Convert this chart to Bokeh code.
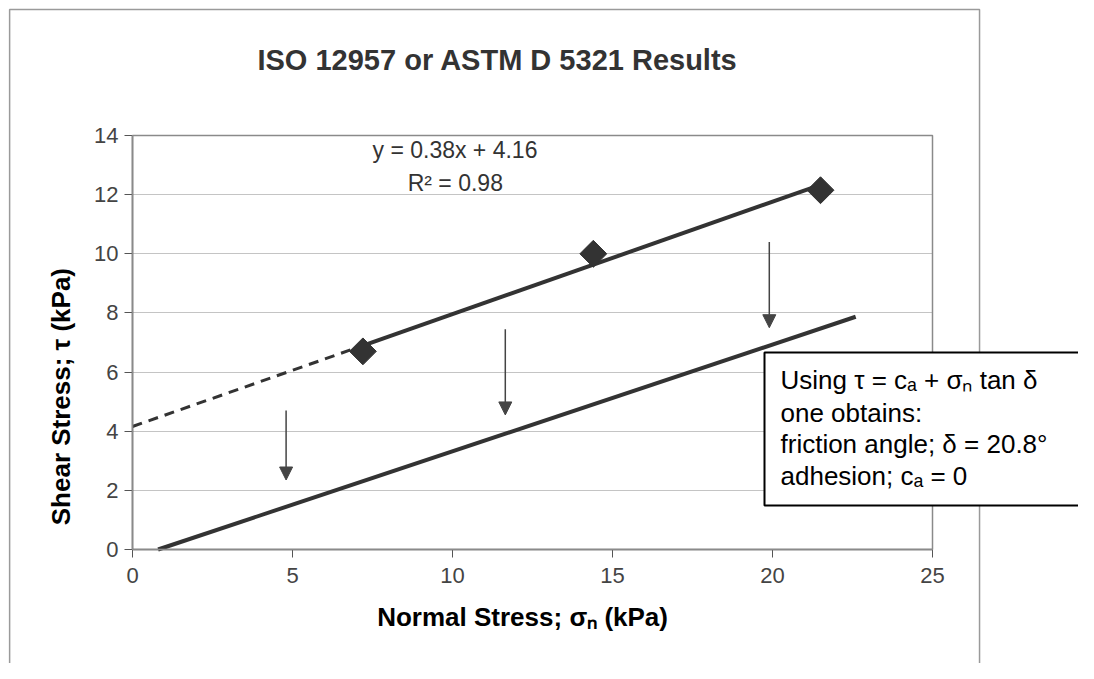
from bokeh.plotting import figure
from bokeh.models import (Range1d, Label, Arrow, NormalHead, BoxAnnotation, FixedTicker,
                          LinearAxis, Grid)
from bokeh.embed import file_html
from bokeh.resources import INLINE

# ---- data ----
normal_stress = [7.2, 14.4, 21.5]          # sigma_n (kPa)
shear_stress = [6.7, 10.0, 12.15]          # tau (kPa)
fit_slope = 0.38
fit_intercept = 4.16
fit_x_solid = [7.2, 21.5]
fit_x_dashed = [0.0, 7.2]
interface_x = [0.8, 22.6]                  # shifted failure envelope
interface_y = [0.0, 7.87]
arrow_x = [4.8, 11.65, 19.9]
arrow_y_start = [4.7, 7.45, 10.4]
arrow_y_end = [2.35, 4.55, 7.5]
x_ticks = [0, 5, 10, 15, 20, 25]
y_ticks = [0, 2, 4, 6, 8, 10, 12, 14]

FONT = "Liberation Sans"
DARK = "#333333"
XMIN, XMAX = x_ticks[0], x_ticks[-1]
YMIN, YMAX = y_ticks[0], y_ticks[-1]

p = figure(width=1078, height=663, output_backend="svg", toolbar_location=None,
           x_range=Range1d(-4.125, 29.5625), y_range=Range1d(-3.855, 18.565),
           x_axis_location=None, y_axis_location=None,
           min_border=0, min_border_left=0, min_border_right=0,
           min_border_top=0, min_border_bottom=0)
p.background_fill_color = "white"
p.border_fill_color = "white"
p.outline_line_color = None
p.grid.visible = False

# horizontal grid restricted to the plot area
g = Grid(dimension=1, ticker=FixedTicker(ticks=y_ticks), bounds=(YMIN, YMAX))
if "cross_bounds" in Grid.properties():
    g.cross_bounds = (XMIN, XMAX)
g.grid_line_color = "#c4c4c4"
g.grid_line_width = 1
p.add_layout(g)

# plot area border (top / right)
p.add_layout(BoxAnnotation(left=XMIN, right=XMAX, bottom=YMIN, top=YMAX, fill_alpha=0,
                           line_color="#8a8a8a", line_alpha=1, line_width=1.5))

# axes fixed at the origin
xa = LinearAxis(fixed_location=0, bounds=(XMIN, XMAX), ticker=FixedTicker(ticks=x_ticks))
ya = LinearAxis(fixed_location=0, bounds=(YMIN, YMAX), ticker=FixedTicker(ticks=y_ticks))
for ax in (xa, ya):
    ax.axis_line_color = "#555555"
    ax.axis_line_width = 1.5
    ax.major_tick_line_color = "#555555"
    ax.major_tick_in = 0
    ax.major_tick_out = 8
    ax.minor_tick_line_color = None
    ax.major_label_text_font = FONT
    ax.major_label_text_font_size = "22px"
    ax.major_label_text_color = "#444444"
xa.major_label_standoff = 10
ya.major_label_standoff = 6
p.add_layout(xa, "below")
p.add_layout(ya, "left")

# trend line (dashed extrapolation + solid)
fy_d = [fit_slope * x + fit_intercept for x in fit_x_dashed]
fy_s = [fit_slope * x + fit_intercept for x in fit_x_solid]
p.line(fit_x_dashed, fy_d, line_color=DARK, line_width=3, line_dash="10 7")
p.line(fit_x_solid, fy_s, line_color=DARK, line_width=4)
p.line(interface_x, interface_y, line_color=DARK, line_width=4)

# data points
p.scatter(normal_stress, shear_stress, marker="square", angle=0.7854, size=19,
          fill_color=DARK, line_color=DARK)

# arrows
for ax_, y0, y1 in zip(arrow_x, arrow_y_start, arrow_y_end):
    p.add_layout(Arrow(x_start=ax_, y_start=y0, x_end=ax_, y_end=y1,
                       line_color="#444444", line_width=1.5,
                       end=NormalHead(size=13, fill_color="#444444", line_color="#444444")))

# equation
p.add_layout(Label(x=7.5, y=13.5, text="y = 0.38x + 4.16", text_font=FONT,
                   text_font_size="23px", text_color=DARK, text_baseline="middle"))
p.add_layout(Label(x=8.6, y=12.4, text="R² = 0.98", text_font=FONT,
                   text_font_size="23px", text_color=DARK, text_baseline="middle"))

# title
p.add_layout(Label(x=11.41, y=16.54, text="ISO 12957 or ASTM D 5321 Results", text_font=FONT,
                   text_font_size="29px", text_font_style="bold", text_color=DARK,
                   text_align="center", text_baseline="middle"))

# axis titles
p.add_layout(Label(x=12.19, y=-2.27, text="Normal Stress; σₙ (kPa)", text_font=FONT,
                   text_font_size="26px", text_font_style="bold", text_color="black",
                   text_align="center", text_baseline="middle"))
p.add_layout(Label(x=-2.22, y=5.17, text="Shear Stress; τ (kPa)", text_font=FONT,
                   text_font_size="26px", text_font_style="bold", text_color="black",
                   text_align="center", text_baseline="middle", angle=1.5708))

# outer chart frame
p.add_layout(BoxAnnotation(left=-3.84, right=26.47, top=18.26, bottom=-10, fill_alpha=0,
                           line_color="#9a9a9a", line_alpha=1, line_width=1.5))

# text box
p.add_layout(BoxAnnotation(left=19.75, right=40, top=6.66, bottom=1.49, fill_color="white",
                           fill_alpha=1, line_color="black", line_alpha=1, line_width=2))
box_lines = ["Using τ = cₐ + σₙ tan δ", "one obtains:", "friction angle; δ = 20.8°", "adhesion; cₐ = 0"]
box_y = [5.72, 4.63, 3.58, 2.50]
for t, yy in zip(box_lines, box_y):
    p.add_layout(Label(x=20.25, y=yy, text=t, text_font=FONT, text_font_size="26px",
                       text_color="black", text_baseline="middle"))

open("out.html", "w").write(file_html(p, INLINE))
